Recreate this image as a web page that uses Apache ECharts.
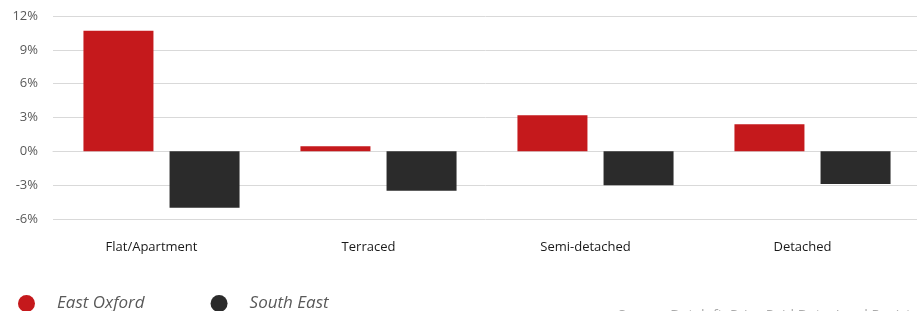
<!DOCTYPE html>
<html>
<head>
<meta charset="utf-8">
<script src="https://cdn.jsdelivr.net/npm/echarts@6/dist/echarts.min.js"></script>
<style>
  html, body { margin: 0; padding: 0; background: #fff; }
  #chart { width: 917px; height: 311px; }
</style>
</head>
<body>
<div id="chart"></div>
<script>
const categories = ['Flat/Apartment', 'Terraced', 'Semi-detached', 'Detached'];
const eastOxford = [10.7, 0.45, 3.2, 2.4];
const southEast = [-5.0, -3.5, -3.0, -2.9];
const yTicks = { min: -6, max: 12, interval: 3 };

const chart = echarts.init(document.getElementById('chart'));

chart.setOption({
    animation: false,
    textStyle: { fontFamily: 'Open Sans' },
    grid: { top: 16, left: 53, right: -4, bottom: 92, outerBoundsMode: 'none' },
    legend: {
        left: 13,
        top: 290,
        icon: 'circle',
        itemWidth: 17,
        itemHeight: 17,
        itemGap: 66,
        textStyle: {
            fontSize: 17,
            fontStyle: 'italic',
            color: '#595959',
            padding: [0, 0, 0, 17]
        },
        data: ['East Oxford', 'South East']
    },
    xAxis: {
        type: 'category',
        data: categories,
        axisTick: { show: false },
        axisLine: { lineStyle: { color: '#d9d9d9' } },
        axisLabel: {
            margin: 22,
            fontSize: 13,
            color: '#1a1a1a',
            padding: [0, 20, 0, 0]
        }
    },
    yAxis: {
        type: 'value',
        min: yTicks.min,
        max: yTicks.max,
        interval: yTicks.interval,
        axisLabel: {
            formatter: '{value}%',
            margin: 15,
            fontSize: 13,
            color: '#595959'
        },
        splitLine: { lineStyle: { color: '#d9d9d9', width: 1 } }
    },
    series: [
        {
            name: 'East Oxford',
            type: 'bar',
            data: eastOxford,
            barWidth: 70,
            barGap: '23%',
            itemStyle: { color: '#c5191c' }
        },
        {
            name: 'South East',
            type: 'bar',
            data: southEast,
            barWidth: 70,
            itemStyle: { color: '#2b2b2b' }
        }
    ],
    graphic: [
        {
            type: 'text',
            left: 618,
            top: 309,
            style: {
                text: 'Source: Dataloft, Price Paid Data, Land Registry',
                fontSize: 14,
                fill: '#aaaaaa',
                fontFamily: 'Open Sans'
            }
        }
    ]
});
</script>
</body>
</html>
